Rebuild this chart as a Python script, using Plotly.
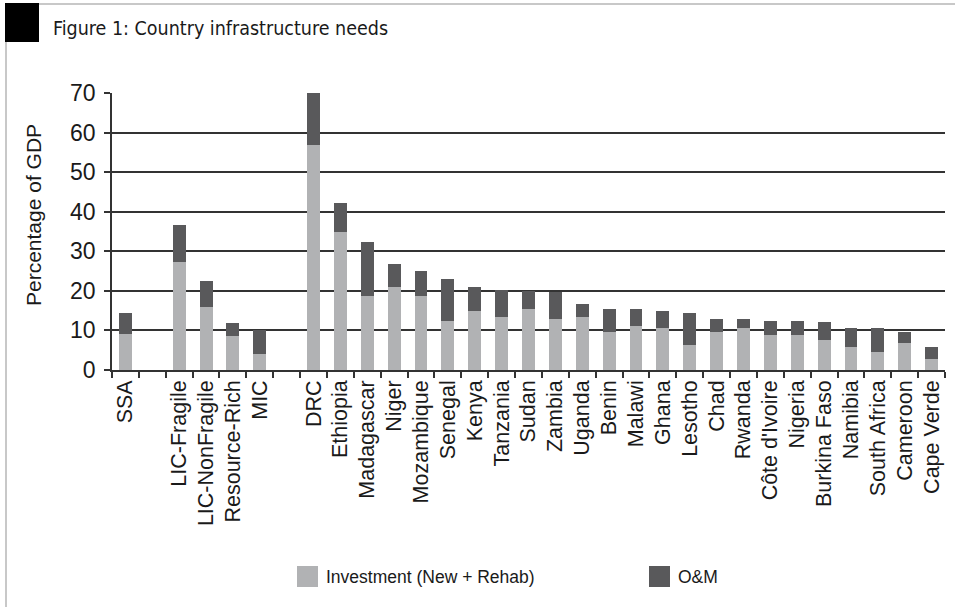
import plotly.graph_objects as go

# ---- data ----
categories = ["SSA", " ", "LIC-Fragile", "LIC-NonFragile", "Resource-Rich", "MIC", "  ",
              "DRC", "Ethiopia", "Madagascar", "Niger", "Mozambique", "Senegal", "Kenya",
              "Tanzania", "Sudan", "Zambia", "Uganda", "Benin", "Malawi", "Ghana", "Lesotho",
              "Chad", "Rwanda", "Côte d'Ivoire", "Nigeria", "Burkina Faso", "Namibia",
              "South Africa", "Cameroon", "Cape Verde"]
investment = [9.0, None, 27.2, 15.8, 8.7, 4.1, None,
              56.9, 34.8, 18.6, 21.1, 18.6, 12.5, 14.8,
              13.5, 15.3, 12.8, 13.5, 9.5, 11.0, 10.7, 6.2,
              9.7, 10.5, 8.9, 8.9, 7.7, 5.7,
              4.6, 6.9, 2.9]
om = [5.5, None, 9.4, 6.6, 3.3, 6.0, None,
      13.1, 7.4, 13.7, 5.6, 6.3, 10.4, 6.1,
      6.6, 4.7, 6.8, 3.1, 5.8, 4.3, 4.1, 8.3,
      3.3, 2.5, 3.6, 3.6, 4.5, 5.0,
      6.1, 2.6, 2.8]
series_names = ["Investment (New + Rehab)", "O&M"]
y_ticks = [0, 10, 20, 30, 40, 50, 60, 70]

# ---- style ----
C_INV = "#b1b2b4"
C_OM = "#59595b"
GRID = "#333333"
FONT = "Liberation Sans, Arial, sans-serif"
TITLE_FONT = "Liberation Sans Narrow, DejaVu Sans Condensed, Arial Narrow, sans-serif"

W, H = 955, 607
L, R, T, B = 112, 10, 93, 237
PW, PH = W - L - R, H - T - B


def px(x):
    return (x - L) / PW


def py(y):
    return (H - B - y) / PH


fig = go.Figure()
fig.add_trace(go.Bar(x=categories, y=investment, name=series_names[0],
                     marker=dict(color=C_INV, line=dict(width=0)), showlegend=False))
fig.add_trace(go.Bar(x=categories, y=om, name=series_names[1],
                     marker=dict(color=C_OM, line=dict(width=0)), showlegend=False))

shapes = [
    # black square in the corner
    dict(type="rect", xref="paper", yref="paper", x0=px(5), x1=px(39), y0=py(42), y1=py(3),
         fillcolor="black", line=dict(width=0), layer="above"),
    # top border
    dict(type="line", xref="paper", yref="paper", x0=px(39), x1=px(955), y0=py(4), y1=py(4),
         line=dict(color="#c8c8c8", width=2)),
    # left border
    dict(type="line", xref="paper", yref="paper", x0=px(6), x1=px(6), y0=py(42), y1=py(607),
         line=dict(color="#c8c8c8", width=2)),
    # legend swatches
    dict(type="rect", xref="paper", yref="paper", x0=px(297), x1=px(318), y0=py(587), y1=py(566),
         fillcolor=C_INV, line=dict(width=0)),
    dict(type="rect", xref="paper", yref="paper", x0=px(649), x1=px(670), y0=py(587), y1=py(566),
         fillcolor=C_OM, line=dict(width=0)),
]

annotations = [
    dict(text="Figure 1: Country infrastructure needs", xref="paper", yref="paper",
         x=px(51), y=py(28), xanchor="left", yanchor="middle", showarrow=False,
         font=dict(family=TITLE_FONT, size=19.5, color="#1a1a1a")),
    dict(text="Percentage of GDP", xref="paper", yref="paper",
         x=px(33), y=py(215), xanchor="center", yanchor="middle", textangle=-90,
         showarrow=False, font=dict(family=FONT, size=21, color="#1a1a1a")),
    dict(text=series_names[0], xref="paper", yref="paper",
         x=px(324), y=py(577), xanchor="left", yanchor="middle", showarrow=False,
         font=dict(family=FONT, size=17.5, color="#1a1a1a")),
    dict(text=series_names[1], xref="paper", yref="paper",
         x=px(676), y=py(577), xanchor="left", yanchor="middle", showarrow=False,
         font=dict(family=FONT, size=17.5, color="#1a1a1a")),
]

fig.update_layout(
    width=W, height=H,
    margin=dict(l=L, r=R, t=T, b=B, pad=0),
    barmode="stack", bargap=0.52,
    paper_bgcolor="white", plot_bgcolor="white",
    showlegend=False,
    shapes=shapes, annotations=annotations,
    font=dict(family=FONT, color="#1a1a1a"),
)
fig.update_xaxes(
    type="category", categoryorder="array", categoryarray=categories,
    tickangle=-90, tickfont=dict(family=FONT, size=21.5, color="#1a1a1a"),
    ticks="outside", tickson="boundaries", ticklen=6, tickwidth=1.5, tickcolor=GRID,
    showline=True, linecolor=GRID, linewidth=1.5, showgrid=False,
    fixedrange=True,
)
fig.update_yaxes(
    range=[0, 70], tickvals=y_ticks,
    tickfont=dict(family=FONT, size=23, color="#1a1a1a"),
    ticks="outside", ticklen=6, tickwidth=1.5, tickcolor=GRID, ticklabelstandoff=4,
    showline=True, linecolor=GRID, linewidth=1.5,
    showgrid=True, gridcolor=GRID, gridwidth=1.5, zeroline=False,
    fixedrange=True,
)

fig.write_html("out.html")
